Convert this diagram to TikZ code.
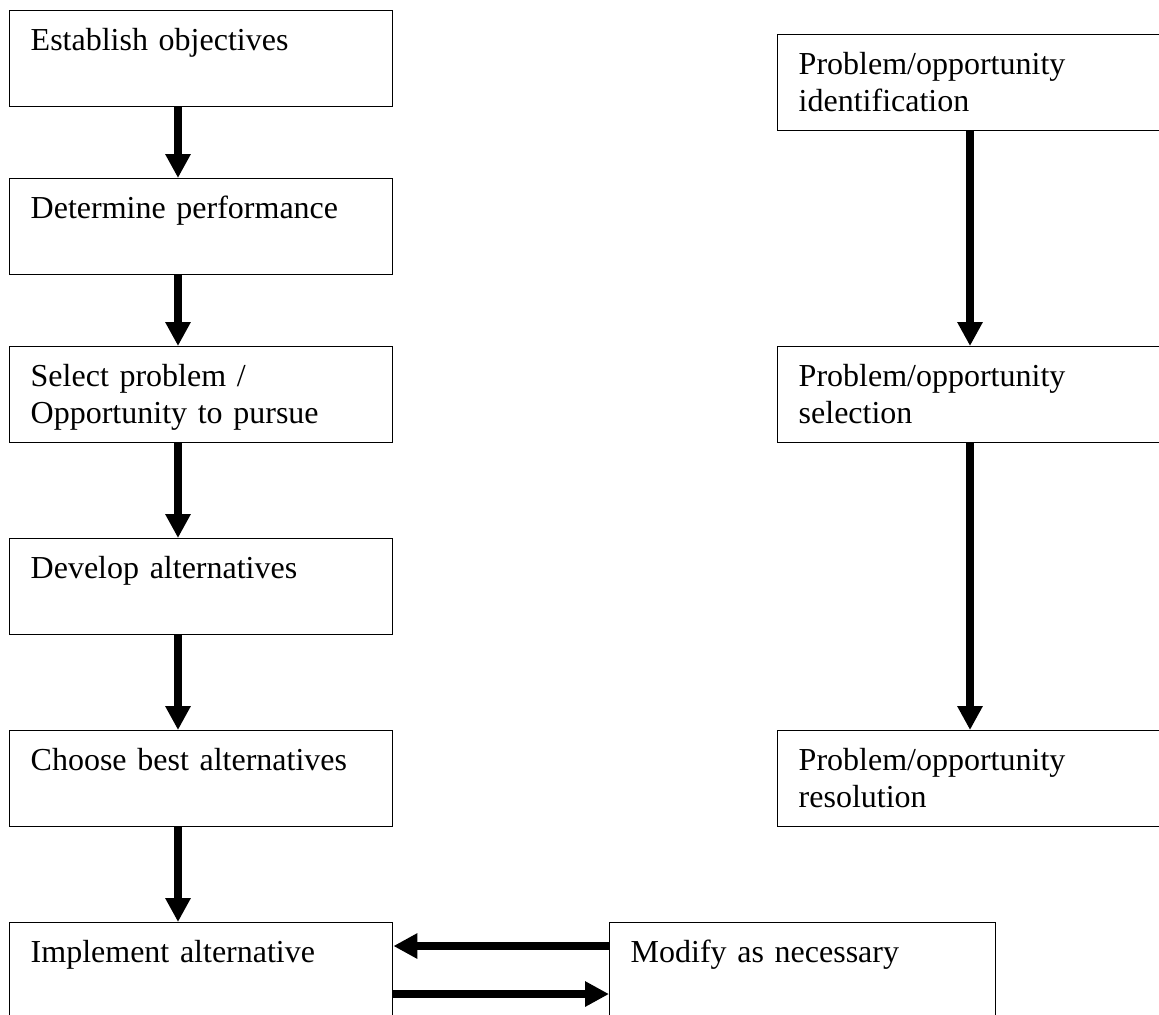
\documentclass[tikz,border=0pt]{standalone}
\usepackage{fontspec}
\setmainfont{Liberation Serif}
\usetikzlibrary{arrows.meta}
\tikzset{>={Triangle[length=12pt,width=12pt]}}
\tikzset{
  stepbox/.style={draw,line width=0.7pt,rectangle,anchor=north west,
    align=left,inner xsep=10.5pt,inner ysep=0pt,text width=170.5pt,
    text height=20pt,text depth=28pt,
    font=\fontsize{16}{18.5}\selectfont},
  flow/.style={->,line width=3.75pt}
}

\begin{document}
\begin{tikzpicture}[x=0.5pt,y=-0.5pt]
  \useasboundingbox (0,0) rectangle (1159,1014);
  % left column
  \node[stepbox] (obj) at (9,10) {Establish objectives};
  \node[stepbox] (perf) at (9,178) {Determine performance};
  \node[stepbox] (sel) at (9,346) {Select problem /\\Opportunity to pursue};
  \node[stepbox] (dev) at (9,538) {Develop alternatives};
  \node[stepbox] (best) at (9,730) {Choose best alternatives};
  \node[stepbox] (imp) at (9,922) {Implement alternative};
  \node[stepbox,text width=172pt] (mod) at (609,922) {Modify as necessary};
  % right column
  \node[stepbox] (ident) at (777,34) {Problem/opportunity\\identification};
  \node[stepbox] (pick) at (777,346) {Problem/opportunity\\selection};
  \node[stepbox] (res) at (777,730) {Problem/opportunity\\resolution};
  % arrows
  \coordinate (lx) at (178,0);
  \coordinate (rx) at (970,0);
  \coordinate (ya) at (0,946);
  \coordinate (yb) at (0,994);
  \draw[flow] (obj.south -| lx) -- (perf.north -| lx);
  \draw[flow] (perf.south -| lx) -- (sel.north -| lx);
  \draw[flow] (sel.south -| lx) -- (dev.north -| lx);
  \draw[flow] (dev.south -| lx) -- (best.north -| lx);
  \draw[flow] (best.south -| lx) -- (imp.north -| lx);
  \draw[flow] (ident.south -| rx) -- (pick.north -| rx);
  \draw[flow] (pick.south -| rx) -- (res.north -| rx);
  \draw[flow] (mod.west |- ya) -- (imp.east |- ya);
  \draw[flow] (imp.east |- yb) -- (mod.west |- yb);
\end{tikzpicture}
\end{document}
